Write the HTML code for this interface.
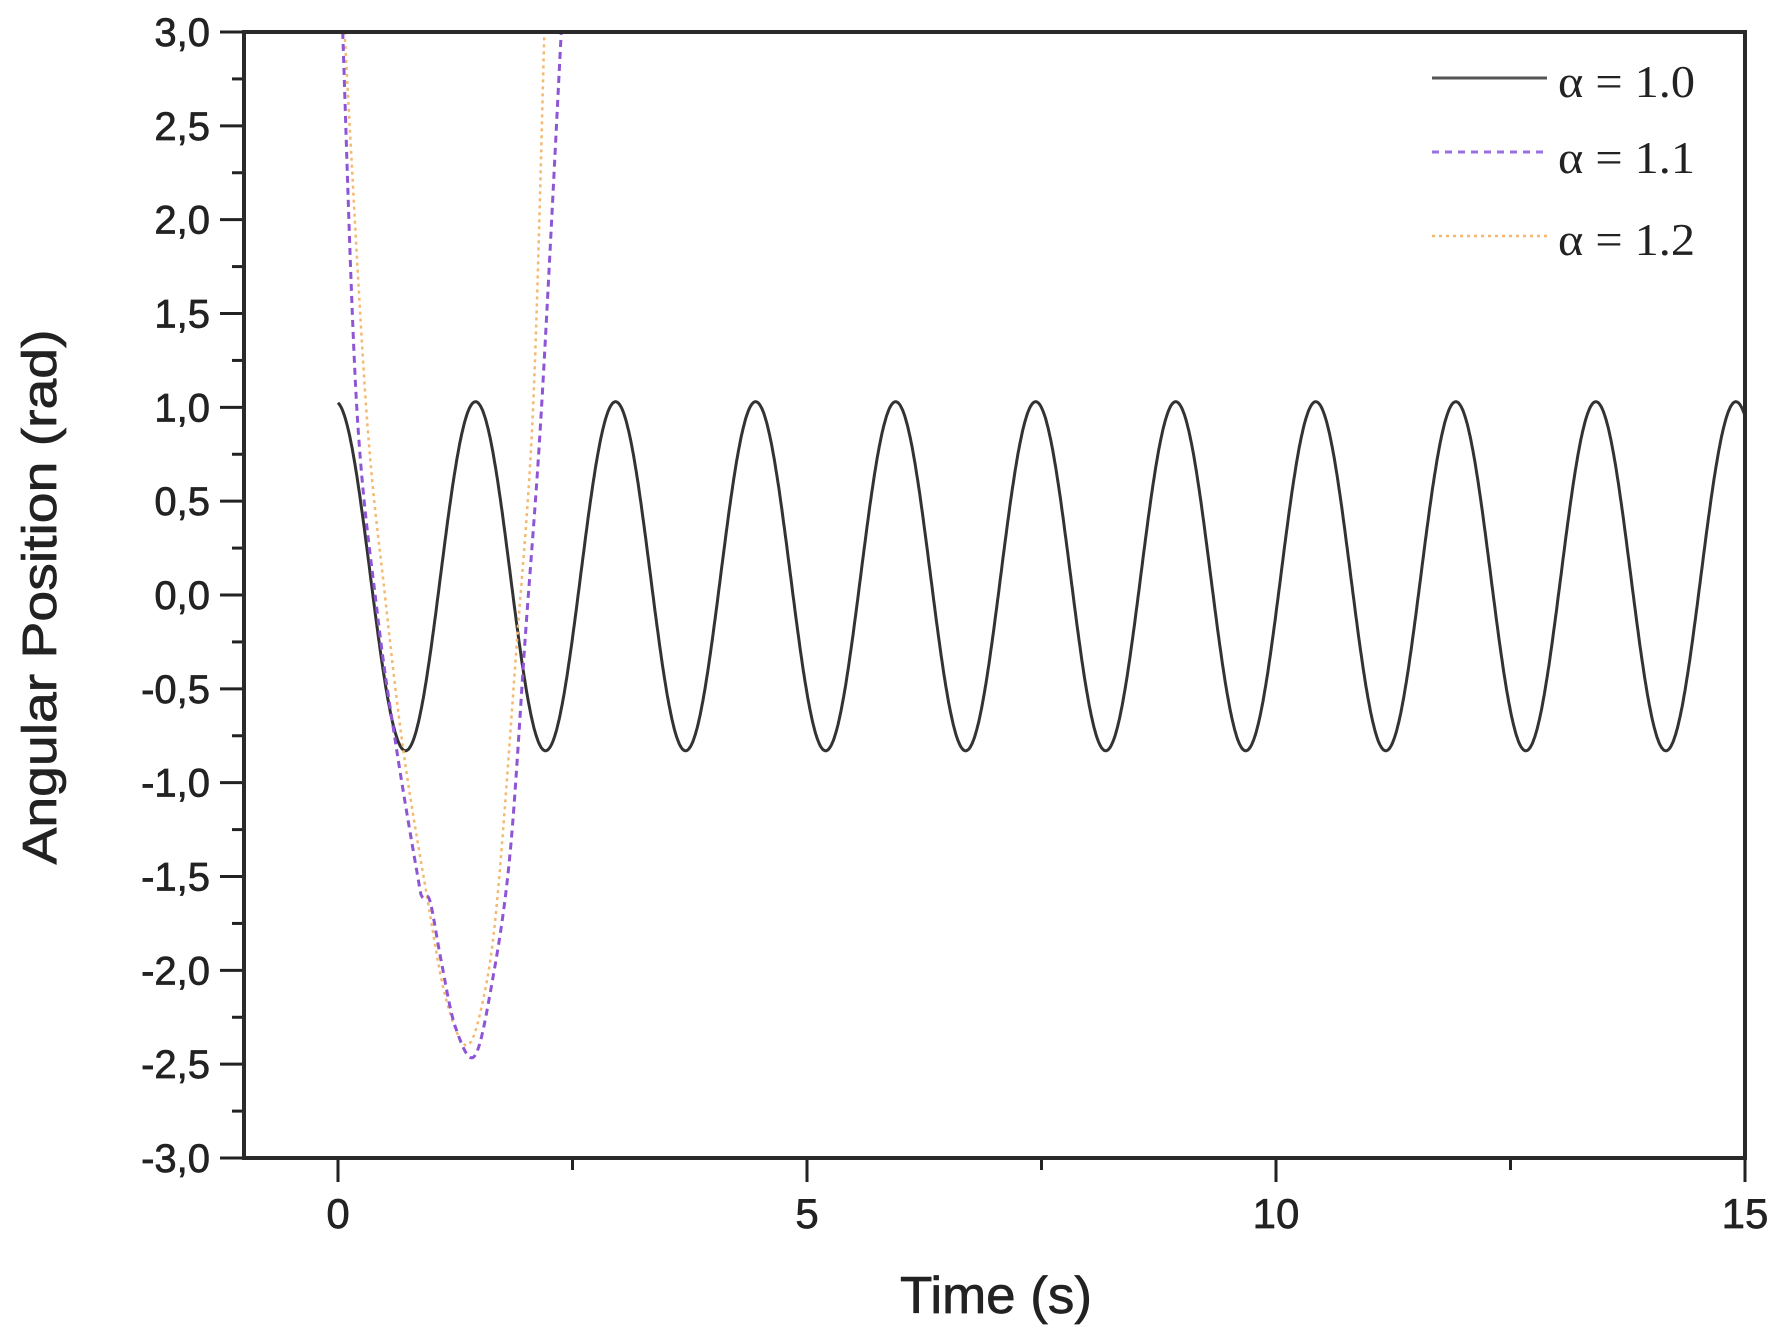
<!DOCTYPE html>
<html><head><meta charset="utf-8"><style>
html,body{margin:0;padding:0;background:#fff;}
svg{display:block;}
text{font-family:"Liberation Sans",Arial,sans-serif;fill:#222;}
.b{stroke:#222;stroke-width:0.7;}
</style></head><body>
<svg id="s" width="1781" height="1337" viewBox="0 0 1781 1337" xmlns="http://www.w3.org/2000/svg">
<rect width="1781" height="1337" fill="#fff"/>
<g id="ticks" stroke="#222" stroke-width="3"></g>
<g id="curves" fill="none"></g>
<rect x="244" y="32" width="1501" height="1126" fill="none" stroke="#2a2a2a" stroke-width="4"/>
<g id="labels" font-size="40" text-anchor="end" class="b"></g>
<text class="b" x="996" y="1313" font-size="52" text-anchor="middle" textLength="192" lengthAdjust="spacingAndGlyphs">Time (s)</text>
<text class="b" transform="translate(56,597) rotate(-90)" font-size="48" text-anchor="middle" textLength="535" lengthAdjust="spacingAndGlyphs">Angular Position (rad)</text>
<g font-size="45">
<line x1="1432" y1="78" x2="1547" y2="78" stroke="#555" stroke-width="3"/>
<text x="1558" y="97" style="font-family:'Liberation Serif',serif" textLength="137" lengthAdjust="spacingAndGlyphs">α = 1.0</text>
<line x1="1432" y1="152" x2="1547" y2="152" stroke="#9a6fe0" stroke-width="3" stroke-dasharray="7,6"/>
<text x="1558" y="173" style="font-family:'Liberation Serif',serif" textLength="137" lengthAdjust="spacingAndGlyphs">α = 1.1</text>
<line x1="1432" y1="236" x2="1547" y2="236" stroke="#f4b870" stroke-width="2.5" stroke-dasharray="3,4"/>
<text x="1558" y="255" style="font-family:'Liberation Serif',serif" textLength="137" lengthAdjust="spacingAndGlyphs">α = 1.2</text>
</g>
</svg>
<script>
var NS="http://www.w3.org/2000/svg";
function X(t){return 338+t*93.8;}
function Y(v){return 32+(3-v)*187.67;}
function el(p,tag,a,txt){var e=document.createElementNS(NS,tag);for(var k in a)e.setAttribute(k,a[k]);if(txt)e.textContent=txt;p.appendChild(e);return e;}
var tk=document.getElementById('ticks'),lb=document.getElementById('labels'),cv=document.getElementById('curves');
for(var i=0;i<=24;i++){var v=3-i*0.25,y=Y(v);var maj=(i%2==0);
 el(tk,'line',{x1:maj?220:232,y1:y,x2:244,y2:y});
 if(maj){var s=v.toFixed(1).replace('.',',');if(s=="-0,0")s="0,0";el(lb,'text',{x:210,y:y+14},s);}}
for(var t=0;t<=15;t+=2.5){var x=X(t),maj=(t%5==0);
 el(tk,'line',{x1:x,y1:1158,x2:x,y2:maj?1182:1170});
 if(maj)el(lb,'text',{x:x,y:1228,'text-anchor':'middle','font-size':42},String(t));}
var P=1.493,d="";
for(var t=0;t<=15;t+=0.01){var v=0.1+0.93*Math.cos(2*Math.PI*(t+0.027)/P);d+=(t==0?"M":"L")+X(t).toFixed(1)+","+Y(v).toFixed(1);}
el(cv,'path',{d:d,stroke:'#333',"stroke-width":3});
function smooth(pts){var d="M"+X(pts[0][0])+","+Y(pts[0][1]);
 for(var i=0;i<pts.length-1;i++){var p0=pts[Math.max(0,i-1)],p1=pts[i],p2=pts[i+1],p3=pts[Math.min(pts.length-1,i+2)];
 var c1x=X(p1[0])+(X(p2[0])-X(p0[0]))/6,c1y=Y(p1[1])+(Y(p2[1])-Y(p0[1]))/6,c2x=X(p2[0])-(X(p3[0])-X(p1[0]))/6,c2y=Y(p2[1])-(Y(p3[1])-Y(p1[1]))/6;
 d+="C"+c1x+","+c1y+" "+c2x+","+c2y+" "+X(p2[0])+","+Y(p2[1]);}return d;}
var orange=[[0.07,3],[0.3,1.0],[0.5,0.0],[0.7,-0.84],[0.95,-1.61],[1.15,-2.15],[1.37,-2.4],[1.55,-2.15],[1.7,-1.61],[1.9,-0.3],[2.08,1.0],[2.2,3]];
var purple=[[0.05,3],[0.2,1.0],[0.42,-0.1],[0.63,-0.84],[0.85,-1.5],[0.9,-1.61],[0.98,-1.63],[1.1,-1.95],[1.25,-2.3],[1.45,-2.46],[1.63,-2.1],[1.83,-1.4],[2.0,-0.2],[2.17,1.0],[2.38,3]];
el(cv,'path',{d:smooth(orange),stroke:'#f4b870',"stroke-width":2.5,"stroke-dasharray":"3,4"});
el(cv,'path',{d:smooth(purple),stroke:'#8e55d6',"stroke-width":3,"stroke-dasharray":"7,5"});
</script>
</body></html>
